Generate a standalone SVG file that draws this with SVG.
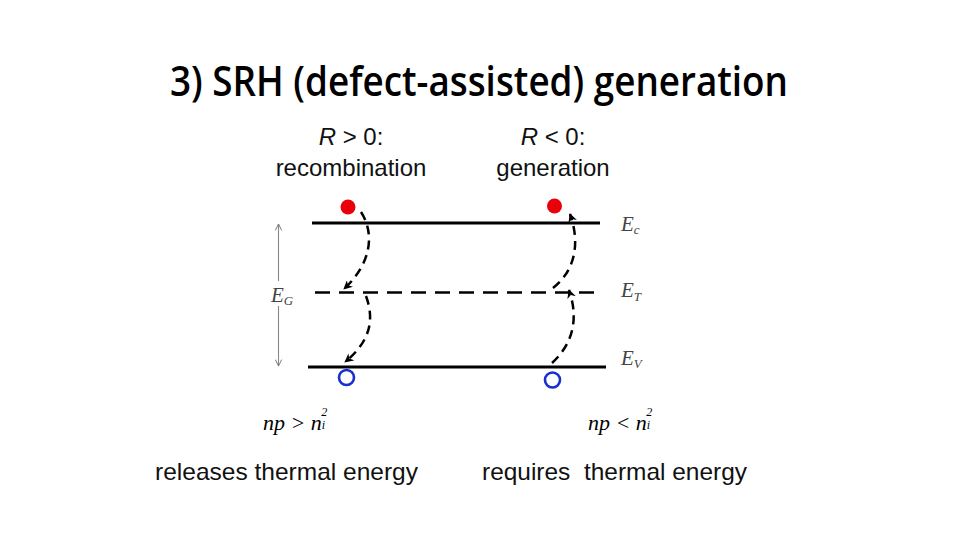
<svg xmlns="http://www.w3.org/2000/svg" width="960" height="540" viewBox="0 0 960 540">
<defs>
<style>
.sans{font-family:"Liberation Sans",Arial,sans-serif;fill:#111}
.title{font-family:"Open Sans","Liberation Sans",sans-serif;font-weight:600;fill:#000}
.serif{font-family:"Liberation Serif","Times New Roman",serif;font-style:italic;fill:#444}
.cond{font-family:"Liberation Serif","Times New Roman",serif;font-style:italic;fill:#000}
.band{stroke:#000;stroke-width:3;fill:none}
.trap{stroke:#000;stroke-width:2.6;stroke-dasharray:15 9;fill:none}
.hop{stroke:#000;stroke-width:2.5;stroke-dasharray:9 6;fill:none}
.elec{fill:#e8000b}
.hole{fill:none;stroke:#1a2fd0;stroke-width:2.6}
</style>
<marker id="ah" viewBox="0 0 10 10" refX="9" refY="5" markerWidth="9" markerHeight="9" markerUnits="userSpaceOnUse" orient="auto">
<path d="M0,0 L10,5 L0,10 L3,5 Z" fill="#000"/>
</marker>
<marker id="gh" viewBox="0 0 10 10" refX="9" refY="5" markerWidth="8" markerHeight="8" markerUnits="userSpaceOnUse" orient="auto-start-reverse">
<path d="M1,1 L9,5 L1,9" fill="none" stroke="#777" stroke-width="1.2"/>
</marker>
</defs>
<rect width="960" height="540" fill="#fff"/>
<text class="title" x="170" y="96" font-size="41" textLength="618" lengthAdjust="spacingAndGlyphs">3) SRH (defect-assisted) generation</text>

<g id="label-recombination">
<text class="sans" x="351" y="145" font-size="24" text-anchor="middle"><tspan font-style="italic">R</tspan> &gt; 0:</text>
<text class="sans" x="351" y="176" font-size="24" text-anchor="middle">recombination</text>
</g>
<g id="label-generation">
<text class="sans" x="553" y="145" font-size="24" text-anchor="middle"><tspan font-style="italic">R</tspan> &lt; 0:</text>
<text class="sans" x="553" y="176" font-size="24" text-anchor="middle">generation</text>
</g>

<g id="band-Ec">
<line class="band" x1="312" y1="223" x2="600" y2="223"/>
<text class="serif" x="621" y="231" font-size="21">E<tspan font-size="13" dy="3">c</tspan></text>
</g>
<g id="band-ET">
<line class="trap" x1="315" y1="292.5" x2="603" y2="292.5"/>
<text class="serif" x="621" y="297" font-size="21">E<tspan font-size="13" dy="4">T</tspan></text>
</g>
<g id="band-EV">
<line class="band" x1="308" y1="367" x2="606" y2="367"/>
<text class="serif" x="621" y="365" font-size="21">E<tspan font-size="13" dy="3">V</tspan></text>
</g>
<g id="gap-EG">
<line x1="278.5" y1="224" x2="278.5" y2="281" stroke="#888" stroke-width="1.1" marker-start="url(#gh)"/>
<line x1="278.5" y1="306" x2="278.5" y2="366" stroke="#888" stroke-width="1.1" marker-end="url(#gh)"/>
<text class="serif" x="271" y="302" font-size="21">E<tspan font-size="13" dy="3">G</tspan></text>
</g>

<g id="particles">
<circle class="elec" cx="348" cy="207" r="7.5"/>
<circle class="hole" cx="346.5" cy="377.5" r="7.5"/>
<circle class="elec" cx="554.5" cy="206" r="7.5"/>
<circle class="hole" cx="552.5" cy="380" r="7.5"/>
</g>

<g id="connectors">
<path class="hop" d="M361,212 C374,232 373,262 344,289" marker-end="url(#ah)"/>
<path class="hop" d="M366,296 C374,318 372,340 345,362" marker-end="url(#ah)"/>
<path class="hop" d="M552,363 C575,342 578,316 569,290" marker-end="url(#ah)"/>
<path class="hop" d="M553,288 C576,270 580,242 570,214" marker-end="url(#ah)"/>
</g>

<g id="cond-left">
<text class="cond" x="263" y="430" font-size="22">np &gt; n<tspan font-size="12" dy="-1">i</tspan><tspan font-size="12" dx="-4" dy="-13">2</tspan></text>
</g>
<g id="cond-right">
<text class="cond" x="588" y="430" font-size="22">np &lt; n<tspan font-size="12" dy="-1">i</tspan><tspan font-size="12" dx="-4" dy="-13">2</tspan></text>
</g>

<text class="sans" x="155" y="480" font-size="24" textLength="263" lengthAdjust="spacingAndGlyphs">releases thermal energy</text>
<text class="sans" x="482" y="480" font-size="24" textLength="265" lengthAdjust="spacingAndGlyphs" xml:space="preserve">requires  thermal energy</text>
</svg>
